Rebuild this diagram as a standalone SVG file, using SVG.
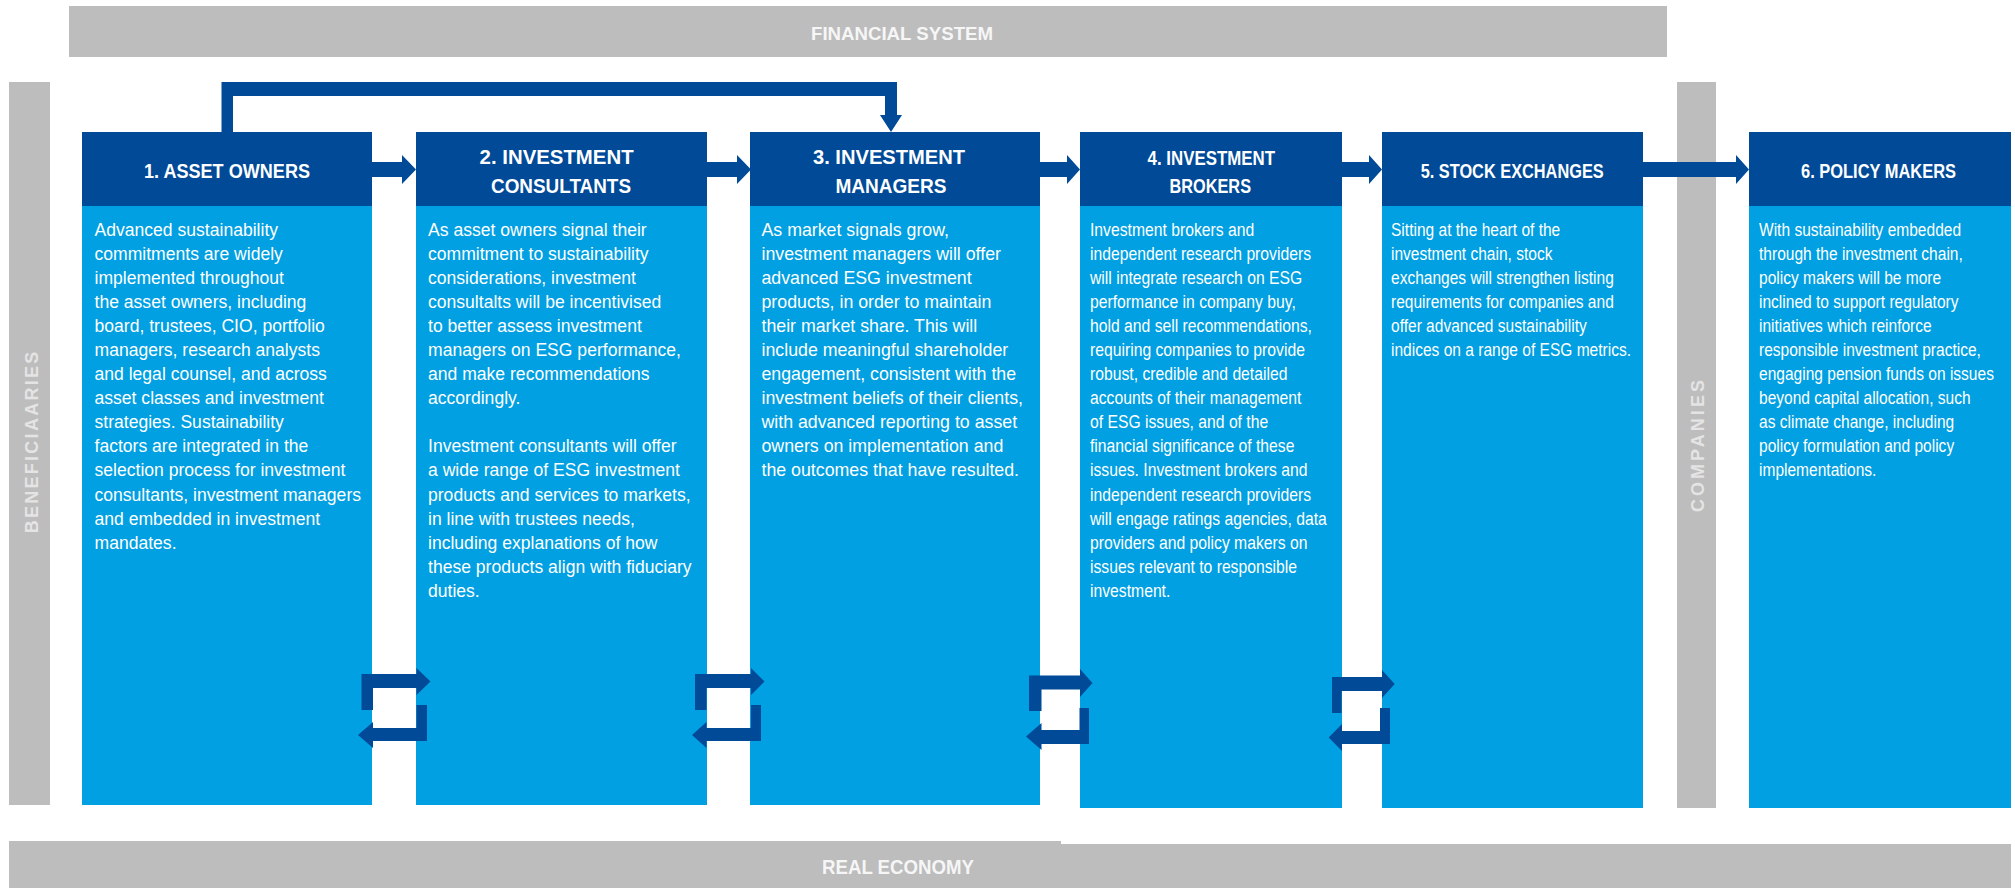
<svg xmlns="http://www.w3.org/2000/svg" width="2015" height="888" viewBox="0 0 2015 888">
  <style>
    .bar { fill: #bdbdbd; }
    .hdr { fill: #004a98; }
    .bdy { fill: #00a0e2; }
    .conn { fill: #004a98; }
    text { font-family: "Liberation Sans", Arial, sans-serif; }
    .h { font-weight: bold; font-size: 20.4px; fill: #ffffff; }
    .b { font-size: 18.5px; fill: #ffffff; }
    .band { font-weight: bold; font-size: 19px; fill: #f6f6f6; }
    .side { font-weight: bold; font-size: 18px; fill: #e4e4e4; }
  </style>

  <!-- context bands -->
  <g id="financial-system">
    <rect class="bar" x="69" y="6" width="1598" height="51"/>
    <text class="band" x="811" y="40" textLength="182" lengthAdjust="spacingAndGlyphs">FINANCIAL SYSTEM</text>
  </g>
  <g id="beneficiaries">
    <rect class="bar" x="9" y="82" width="41" height="723"/>
    <text class="side" transform="translate(37.8,533.3) rotate(-90)" textLength="181.6">BENEFICIAARIES</text>
  </g>
  <g id="companies">
    <rect class="bar" x="1677" y="82" width="39" height="726"/>
    <text class="side" transform="translate(1704,512) rotate(-90)" textLength="132">COMPANIES</text>
  </g>
  <g id="real-economy">
    <path class="bar" d="M9,841 H1061 V844 H2011 V888 H9 Z"/>
    <text class="band" x="822" y="873.5" textLength="152" lengthAdjust="spacingAndGlyphs" style="font-size:20px">REAL ECONOMY</text>
  </g>

  <!-- 1. Asset owners -->
  <g id="asset-owners">
    <rect class="bdy" x="82" y="206" width="290" height="599"/>
    <rect class="hdr" x="82" y="132" width="290" height="74"/>
    <text class="h" x="144" y="177.5" textLength="166" lengthAdjust="spacingAndGlyphs">1. ASSET OWNERS</text>
    <text class="b" transform="translate(94.5,235.5) scale(0.95,1)">
      <tspan x="0" y="0">Advanced sustainability</tspan>
      <tspan x="0" dy="24.1">commitments are widely</tspan>
      <tspan x="0" dy="24.1">implemented throughout</tspan>
      <tspan x="0" dy="24.1">the asset owners, including</tspan>
      <tspan x="0" dy="24.1">board, trustees, CIO, portfolio</tspan>
      <tspan x="0" dy="24.1">managers, research analysts</tspan>
      <tspan x="0" dy="24.1">and legal counsel, and across</tspan>
      <tspan x="0" dy="24.1">asset classes and investment</tspan>
      <tspan x="0" dy="24.1">strategies. Sustainability</tspan>
      <tspan x="0" dy="24.1">factors are integrated in the</tspan>
      <tspan x="0" dy="24.1">selection process for investment</tspan>
      <tspan x="0" dy="24.1">consultants, investment managers</tspan>
      <tspan x="0" dy="24.1">and embedded in investment</tspan>
      <tspan x="0" dy="24.1">mandates.</tspan>
    </text>
  </g>

  <!-- 2. Investment consultants -->
  <g id="investment-consultants">
    <rect class="bdy" x="416" y="206" width="291" height="599"/>
    <rect class="hdr" x="416" y="132" width="291" height="74"/>
    <text class="h" x="479.6" y="164" textLength="154" lengthAdjust="spacingAndGlyphs">2. INVESTMENT</text>
    <text class="h" x="491" y="193" textLength="140" lengthAdjust="spacingAndGlyphs">CONSULTANTS</text>
    <text class="b" transform="translate(428,235.5) scale(0.95,1)">
      <tspan x="0" y="0">As asset owners signal their</tspan>
      <tspan x="0" dy="24.1">commitment to sustainability</tspan>
      <tspan x="0" dy="24.1">considerations, investment</tspan>
      <tspan x="0" dy="24.1">consultalts will be incentivised</tspan>
      <tspan x="0" dy="24.1">to better assess investment</tspan>
      <tspan x="0" dy="24.1">managers on ESG performance,</tspan>
      <tspan x="0" dy="24.1">and make recommendations</tspan>
      <tspan x="0" dy="24.1">accordingly.</tspan>
      <tspan x="0" dy="48.2">Investment consultants will offer</tspan>
      <tspan x="0" dy="24.1">a wide range of ESG investment</tspan>
      <tspan x="0" dy="24.1">products and services to markets,</tspan>
      <tspan x="0" dy="24.1">in line with trustees needs,</tspan>
      <tspan x="0" dy="24.1">including explanations of how</tspan>
      <tspan x="0" dy="24.1">these products align with fiduciary</tspan>
      <tspan x="0" dy="24.1">duties.</tspan>
    </text>
  </g>

  <!-- 3. Investment managers -->
  <g id="investment-managers">
    <rect class="bdy" x="750" y="206" width="290" height="599"/>
    <rect class="hdr" x="750" y="132" width="290" height="74"/>
    <text class="h" x="813" y="164" textLength="152" lengthAdjust="spacingAndGlyphs">3. INVESTMENT</text>
    <text class="h" x="835.5" y="193" textLength="111" lengthAdjust="spacingAndGlyphs">MANAGERS</text>
    <text class="b" transform="translate(761.5,235.5) scale(0.96,1)">
      <tspan x="0" y="0">As market signals grow,</tspan>
      <tspan x="0" dy="24.1">investment managers will offer</tspan>
      <tspan x="0" dy="24.1">advanced ESG investment</tspan>
      <tspan x="0" dy="24.1">products, in order to maintain</tspan>
      <tspan x="0" dy="24.1">their market share. This will</tspan>
      <tspan x="0" dy="24.1">include meaningful shareholder</tspan>
      <tspan x="0" dy="24.1">engagement, consistent with the</tspan>
      <tspan x="0" dy="24.1">investment beliefs of their clients,</tspan>
      <tspan x="0" dy="24.1">with advanced reporting to asset</tspan>
      <tspan x="0" dy="24.1">owners on implementation and</tspan>
      <tspan x="0" dy="24.1">the outcomes that have resulted.</tspan>
    </text>
  </g>

  <!-- 4. Investment brokers -->
  <g id="investment-brokers">
    <rect class="bdy" x="1080" y="206" width="262" height="602"/>
    <rect class="hdr" x="1080" y="132" width="262" height="74"/>
    <text class="h" x="1147.5" y="165" textLength="127.5" lengthAdjust="spacingAndGlyphs">4. INVESTMENT</text>
    <text class="h" x="1169.5" y="193" textLength="81.5" lengthAdjust="spacingAndGlyphs">BROKERS</text>
    <text class="b" transform="translate(1090,235.5) scale(0.85,1)">
      <tspan x="0" y="0">Investment brokers and</tspan>
      <tspan x="0" dy="24.1">independent research providers</tspan>
      <tspan x="0" dy="24.1">will integrate research on ESG</tspan>
      <tspan x="0" dy="24.1">performance in company buy,</tspan>
      <tspan x="0" dy="24.1">hold and sell recommendations,</tspan>
      <tspan x="0" dy="24.1">requiring companies to provide</tspan>
      <tspan x="0" dy="24.1">robust, credible and detailed</tspan>
      <tspan x="0" dy="24.1">accounts of their management</tspan>
      <tspan x="0" dy="24.1">of ESG issues, and of the</tspan>
      <tspan x="0" dy="24.1">financial significance of these</tspan>
      <tspan x="0" dy="24.1">issues. Investment brokers and</tspan>
      <tspan x="0" dy="24.1">independent research providers</tspan>
      <tspan x="0" dy="24.1">will engage ratings agencies, data</tspan>
      <tspan x="0" dy="24.1">providers and policy makers on</tspan>
      <tspan x="0" dy="24.1">issues relevant to responsible</tspan>
      <tspan x="0" dy="24.1">investment.</tspan>
    </text>
  </g>

  <!-- 5. Stock exchanges -->
  <g id="stock-exchanges">
    <rect class="bdy" x="1382" y="206" width="261" height="602"/>
    <rect class="hdr" x="1382" y="132" width="261" height="74"/>
    <text class="h" x="1420.7" y="177.5" textLength="183" lengthAdjust="spacingAndGlyphs">5. STOCK EXCHANGES</text>
    <text class="b" transform="translate(1391,235.5) scale(0.84,1)">
      <tspan x="0" y="0">Sitting at the heart of the</tspan>
      <tspan x="0" dy="24.1">investment chain, stock</tspan>
      <tspan x="0" dy="24.1">exchanges will strengthen listing</tspan>
      <tspan x="0" dy="24.1">requirements for companies and</tspan>
      <tspan x="0" dy="24.1">offer advanced sustainability</tspan>
      <tspan x="0" dy="24.1">indices on a range of ESG metrics.</tspan>
    </text>
  </g>

  <!-- 6. Policy makers -->
  <g id="policy-makers">
    <rect class="bdy" x="1749" y="206" width="262" height="602"/>
    <rect class="hdr" x="1749" y="132" width="262" height="74"/>
    <text class="h" x="1801" y="177.5" textLength="155" lengthAdjust="spacingAndGlyphs">6. POLICY MAKERS</text>
    <text class="b" transform="translate(1759,235.5) scale(0.84,1)">
      <tspan x="0" y="0">With sustainability embedded</tspan>
      <tspan x="0" dy="24.1">through the investment chain,</tspan>
      <tspan x="0" dy="24.1">policy makers will be more</tspan>
      <tspan x="0" dy="24.1">inclined to support regulatory</tspan>
      <tspan x="0" dy="24.1">initiatives which reinforce</tspan>
      <tspan x="0" dy="24.1">responsible investment practice,</tspan>
      <tspan x="0" dy="24.1">engaging pension funds on issues</tspan>
      <tspan x="0" dy="24.1">beyond capital allocation, such</tspan>
      <tspan x="0" dy="24.1">as climate change, including</tspan>
      <tspan x="0" dy="24.1">policy formulation and policy</tspan>
      <tspan x="0" dy="24.1">implementations.</tspan>
    </text>
  </g>

  <!-- connectors: block arrows -->
  <g id="connectors" class="conn">
    <!-- owners directly to managers, over the top -->
    <path d="M221.5,132 V82 H897 V115 H902 L891,132 L880,115 H885 V96 H233 V132 Z"/>
    <!-- chain along the headers -->
    <path d="M372,162 H402 V155 L416,169.5 L402,184 V177 H372 Z"/>
    <path d="M707,162 H737 V155 L751,169.5 L737,184 V177 H707 Z"/>
    <path d="M1040,162 H1067 V155 L1080,169.5 L1067,184 V177 H1040 Z"/>
    <path d="M1342,162 H1369 V155 L1382,169.5 L1369,184 V177 H1342 Z"/>
    <path d="M1643,162 H1736 V155 L1749,169.5 L1736,184 V177 H1643 Z"/>
    <!-- two-way feedback loops near the bottom -->
    <path d="M361.5,710 V674 H416.5 V668 L430.5,681.5 L416.5,695 V688 H373 V710 Z"/>
    <path d="M427,705 V741 H373 V748 L358,735 L373,722 V728 H416.5 V705 Z"/>
    <path d="M695,710 V674 H751 V668 L764.5,681.5 L751,695 V688 H706.5 V710 Z"/>
    <path d="M761,705 V741 H706.5 V748 L692,735 L706.5,722 V728 H751 V705 Z"/>
    <path d="M1029,711 V675.5 H1080 V669 L1092.5,683 L1080,697 V689.5 H1041.5 V711 Z"/>
    <path d="M1089,708 V744 H1041.5 V750 L1026,736.5 L1041.5,723 V730 H1079.5 V708 Z"/>
    <path d="M1332,713 V677 H1382 V670 L1394.7,684 L1382,698 V691 H1341.6 V713 Z"/>
    <path d="M1390,708 V744 H1342 V751 L1328.7,737.5 L1342,724 V731 H1380 V708 Z"/>
  </g>
</svg>
